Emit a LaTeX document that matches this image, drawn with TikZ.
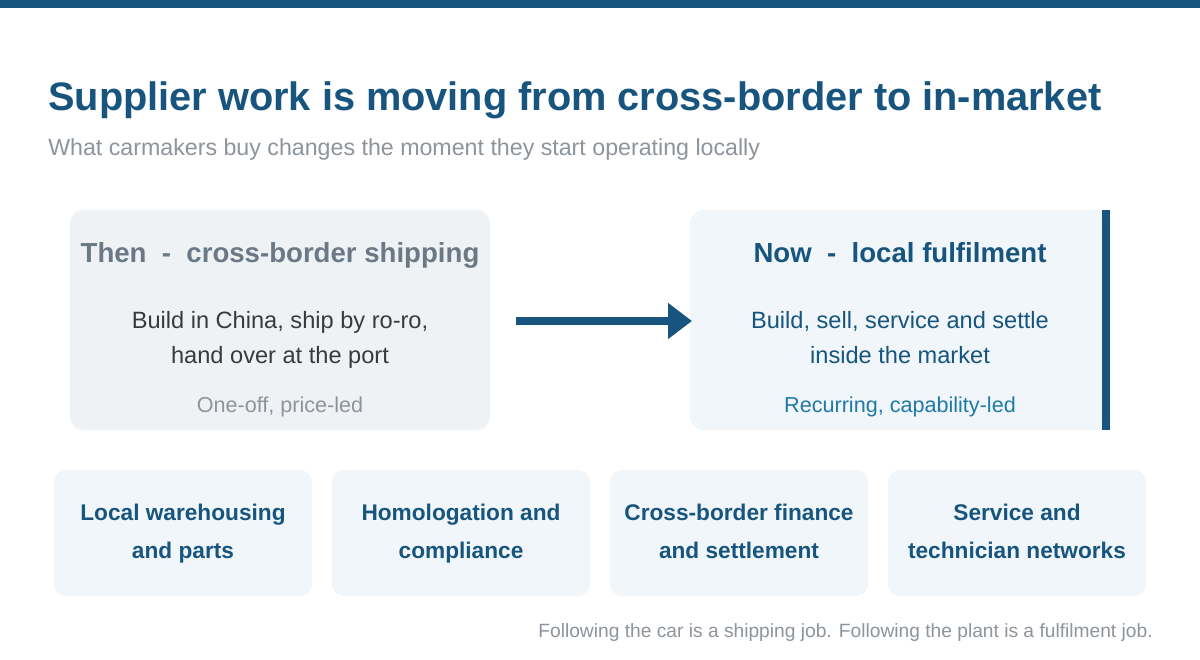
\documentclass[tikz,border=0pt]{standalone}
\usepackage{fontspec}
\setmainfont{Liberation Sans}
\usetikzlibrary{arrows.meta}
\definecolor{navy}{HTML}{17557F}
\definecolor{greyhead}{HTML}{6B7886}
\definecolor{bodyc}{HTML}{3A3A3A}
\definecolor{lightc}{HTML}{8E949B}
\definecolor{tealc}{HTML}{2079A6}
\definecolor{cardL}{HTML}{EEF2F5}
\definecolor{cardR}{HTML}{F0F6F9}
\begin{document}
\begin{tikzpicture}[x=0.75pt,y=-0.75pt,
  lbl/.style={inner sep=0pt,anchor=base},
  small/.style={lbl,text=navy,font=\bfseries\fontsize{17}{20}\selectfont}]
\useasboundingbox (0,0) rectangle (1200,660);
\fill[white] (0,0) rectangle (1200,660);
\fill[navy] (0,0) rectangle (1200,8);
\node[lbl,anchor=base west,text=navy,font=\bfseries\fontsize{29.8}{36}\selectfont] (title) at (48,110) {Supplier work is moving from cross-border to in-market};
\node[lbl,anchor=base west,text=lightc,font=\fontsize{17.4}{20}\selectfont] (sub) at (48,155) {What carmakers buy changes the moment they start operating locally};
% left card
\fill[cardL,rounded corners=10pt] (70,210) rectangle (490,430);
\node[lbl,text=greyhead,font=\bfseries\fontsize{20.7}{24}\selectfont] (lh) at (280,262) {Then\ \ -\ \ cross-border shipping};
\node[lbl,text=bodyc,font=\fontsize{17.7}{20}\selectfont] (lb1) at (280,328) {Build in China, ship by ro-ro,};
\node[lbl,text=bodyc,font=\fontsize{17.7}{20}\selectfont] (lb2) at (280,363) {hand over at the port};
\node[lbl,text=lightc,font=\fontsize{16.2}{18}\selectfont] (ls) at (280,412) {One-off, price-led};
% right card
\fill[cardR,rounded corners=10pt] (690,210) rectangle (1110,430);
\fill[navy] (1102,210) rectangle (1110,430);
\node[lbl,text=navy,font=\bfseries\fontsize{20.7}{24}\selectfont] (rh) at (900,262) {Now\ \ -\ \ local fulfilment};
\node[lbl,text=navy,font=\fontsize{17.7}{20}\selectfont] (rb1) at (900,328) {Build, sell, service and settle};
\node[lbl,text=navy,font=\fontsize{17.7}{20}\selectfont] (rb2) at (900,363) {inside the market};
\node[lbl,text=tealc,font=\fontsize{16.2}{18}\selectfont] (rs) at (900,412) {Recurring, capability-led};
% arrow
\coordinate (a1) at (516,321);
\coordinate (a2) at (692,321);
\draw[navy,line width=6.5pt,-{Triangle[length=18pt,width=26pt]}] (a1) -- (a2);
% bottom cards
\foreach \x/\ta/\tb [count=\i] in {54/{Local warehousing}/{and parts},332/{Homologation and}/{compliance},610/{Cross-border finance}/{and settlement},888/{Service and}/{technician networks}}{
  \fill[cardR,rounded corners=9pt] (\x,470) rectangle ({\x+258},596);
  \node[small] (b\i a) at ({\x+129},520) {\ta};
  \node[small] (b\i b) at ({\x+129},558) {\tb};
}
\node[lbl,anchor=base east,text=lightc,font=\fontsize{14.4}{16}\selectfont] (foot) at (1153,637) {Following the car is a shipping job. Following the plant is a fulfilment job.};
\end{tikzpicture}
\end{document}
